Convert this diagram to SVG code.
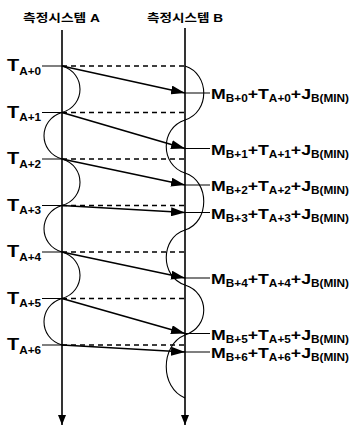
<svg xmlns="http://www.w3.org/2000/svg" width="351" height="427" viewBox="0 0 351 427">
<style>
text{font-family:"Liberation Sans","Noto Sans CJK KR",Arial,sans-serif;font-weight:bold;fill:#000}
.hdr{font-size:11px}
.tl{font-size:17px}
.ml{font-size:15px}
.sub{font-size:10px}
.life{stroke:#000;stroke-width:1.6;fill:none}
.dash{stroke:#000;stroke-width:1.3;stroke-dasharray:5 4;fill:none}
.tick{stroke:#000;stroke-width:1.2;fill:none}
.arr{stroke:#000;stroke-width:1.7;fill:none}
.wave{stroke:#000;stroke-width:1.1;fill:none}
</style>
<defs>
<marker id="ah" markerUnits="userSpaceOnUse" markerWidth="14" markerHeight="9" refX="14" refY="4.5" orient="auto">
<path d="M0,0 L14,4.5 L0,9 Z" fill="#000"/>
</marker>
<marker id="dn" markerUnits="userSpaceOnUse" markerWidth="10" markerHeight="8" refX="10" refY="4" orient="auto">
<path d="M0,0 L10,4 L0,8 Z" fill="#000"/>
</marker>
</defs>
<g id="lifeline-a">
<text class="hdr" x="23" y="22" textLength="77" lengthAdjust="spacingAndGlyphs">측정시스템 A</text>
<line class="life" x1="62" y1="30" x2="62" y2="425" marker-end="url(#dn)"/>
</g>
<g id="lifeline-b">
<text class="hdr" x="147" y="22" textLength="76" lengthAdjust="spacingAndGlyphs">측정시스템 B</text>
<line class="life" x1="185" y1="28" x2="185" y2="425" marker-end="url(#dn)"/>
</g>
<g id="t-labels">
<g id="t0"><text class="tl" x="7" y="71" textLength="34" lengthAdjust="spacingAndGlyphs">T<tspan class="sub" dy="3.5">A+0</tspan></text></g>
<g id="t1"><text class="tl" x="7" y="117.5" textLength="34" lengthAdjust="spacingAndGlyphs">T<tspan class="sub" dy="3.5">A+1</tspan></text></g>
<g id="t2"><text class="tl" x="7" y="164" textLength="34" lengthAdjust="spacingAndGlyphs">T<tspan class="sub" dy="3.5">A+2</tspan></text></g>
<g id="t3"><text class="tl" x="7" y="210.5" textLength="34" lengthAdjust="spacingAndGlyphs">T<tspan class="sub" dy="3.5">A+3</tspan></text></g>
<g id="t4"><text class="tl" x="7" y="257" textLength="34" lengthAdjust="spacingAndGlyphs">T<tspan class="sub" dy="3.5">A+4</tspan></text></g>
<g id="t5"><text class="tl" x="7" y="303.5" textLength="34" lengthAdjust="spacingAndGlyphs">T<tspan class="sub" dy="3.5">A+5</tspan></text></g>
<g id="t6"><text class="tl" x="7" y="350" textLength="34" lengthAdjust="spacingAndGlyphs">T<tspan class="sub" dy="3.5">A+6</tspan></text></g>
</g>
<g id="m-labels">
<g id="m0"><text class="ml" x="211" y="99" textLength="138" lengthAdjust="spacingAndGlyphs">M<tspan class="sub" dy="3">B+0</tspan><tspan dy="-3">+T</tspan><tspan class="sub" dy="3">A+0</tspan><tspan dy="-3">+J</tspan><tspan class="sub" dy="3">B(MIN)</tspan></text></g>
<g id="m1"><text class="ml" x="211" y="154.5" textLength="138" lengthAdjust="spacingAndGlyphs">M<tspan class="sub" dy="3">B+1</tspan><tspan dy="-3">+T</tspan><tspan class="sub" dy="3">A+1</tspan><tspan dy="-3">+J</tspan><tspan class="sub" dy="3">B(MIN)</tspan></text></g>
<g id="m2"><text class="ml" x="211" y="191" textLength="138" lengthAdjust="spacingAndGlyphs">M<tspan class="sub" dy="3">B+2</tspan><tspan dy="-3">+T</tspan><tspan class="sub" dy="3">A+2</tspan><tspan dy="-3">+J</tspan><tspan class="sub" dy="3">B(MIN)</tspan></text></g>
<g id="m3"><text class="ml" x="211" y="218.5" textLength="138" lengthAdjust="spacingAndGlyphs">M<tspan class="sub" dy="3">B+3</tspan><tspan dy="-3">+T</tspan><tspan class="sub" dy="3">A+3</tspan><tspan dy="-3">+J</tspan><tspan class="sub" dy="3">B(MIN)</tspan></text></g>
<g id="m4"><text class="ml" x="211" y="284" textLength="138" lengthAdjust="spacingAndGlyphs">M<tspan class="sub" dy="3">B+4</tspan><tspan dy="-3">+T</tspan><tspan class="sub" dy="3">A+4</tspan><tspan dy="-3">+J</tspan><tspan class="sub" dy="3">B(MIN)</tspan></text></g>
<g id="m5"><text class="ml" x="211" y="339.5" textLength="138" lengthAdjust="spacingAndGlyphs">M<tspan class="sub" dy="3">B+5</tspan><tspan dy="-3">+T</tspan><tspan class="sub" dy="3">A+5</tspan><tspan dy="-3">+J</tspan><tspan class="sub" dy="3">B(MIN)</tspan></text></g>
<g id="m6"><text class="ml" x="211" y="358" textLength="138" lengthAdjust="spacingAndGlyphs">M<tspan class="sub" dy="3">B+6</tspan><tspan dy="-3">+T</tspan><tspan class="sub" dy="3">A+6</tspan><tspan dy="-3">+J</tspan><tspan class="sub" dy="3">B(MIN)</tspan></text></g>
</g>
<g id="connectors">
<path class="tick" d="M42,66H62M42,112.5H62M42,159H62M42,205.5H62M42,252H62M42,298.5H62M42,345H62"/>
<path class="dash" d="M62,66H185M62,112.5H185M62,159H185M62,205.5H185M62,252H185M62,298.5H185M62,345H185"/>
<path class="tick" d="M185,93H210M185,148.5H210M185,185H210M185,212.5H210M185,278H210M185,333.5H210M185,352H210"/>
<line class="arr" x1="62" y1="66" x2="185" y2="93" marker-end="url(#ah)"/>
<line class="arr" x1="62" y1="112.5" x2="185" y2="148.5" marker-end="url(#ah)"/>
<line class="arr" x1="62" y1="159" x2="185" y2="185" marker-end="url(#ah)"/>
<line class="arr" x1="62" y1="205.5" x2="185" y2="212.5" marker-end="url(#ah)"/>
<line class="arr" x1="62" y1="252" x2="185" y2="278" marker-end="url(#ah)"/>
<line class="arr" x1="62" y1="298.5" x2="185" y2="333.5" marker-end="url(#ah)"/>
<line class="arr" x1="62" y1="345" x2="185" y2="352" marker-end="url(#ah)"/>
<path class="wave" d="M62,66 C86,73 86,105.5 62,112.5 C38,119.5 38,152 62,159 C86,166 86,198.5 62,205.5 C38,212.5 38,245 62,252 C86,259 86,291.5 62,298.5 C38,305.5 38,338 62,345"/>
<path class="wave" d="M185,66 C210,74 210,112 185,120 C160,128 160,165 185,173 C210,181 210,222 185,230 C160,238 160,277 185,285 C210,293 210,327 185,335 C160,345 160,388 185,398"/>
</g>
</svg>
